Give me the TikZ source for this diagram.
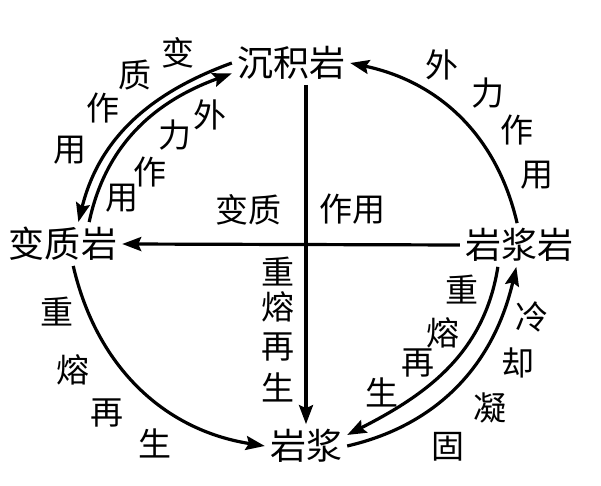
\documentclass[tikz,border=0pt]{standalone}
\usepackage{fontspec}
\setmainfont{Noto Sans CJK SC}
\usetikzlibrary{arrows.meta}
\tikzset{rock/.style={inner sep=5pt, font=\fontsize{36}{40}\selectfont},
  lbl/.style={inner sep=0pt, font=\fontsize{33}{38}\selectfont},
  flow/.style={line width=3.2pt, -{Stealth[length=19pt,width=14pt,inset=3pt]}}}

\begin{document}
\begin{tikzpicture}[x=1pt,y=1pt]
\useasboundingbox (0,0) rectangle (601,486);
% rocks
\node[rock] (sed) at (291,423) {沉积岩};
\node[rock] (meta) at (63,242) {变质岩};
\node[rock] (ign) at (519,241) {岩浆岩};
\node[rock] (mag) at (306,40) {岩浆};
% arcs
\draw[flow] (sed.west) to[out=200,in=76] (meta.55);
\draw[flow] (meta.40) to[out=78,in=200] (sed.190);
\draw[flow] (ign.95) to[out=103,in=348] (sed.east);
\draw[flow] (meta.-65) to[out=283,in=171] (mag.west);
\draw[flow] (ign.-134) to[out=261,in=27] (mag.15);
\draw[flow] (mag.east) to[out=13,in=257] (ign.-97);
% cross
\draw[flow] (ign.west) -- (meta.east);
\draw[flow] (sed.south -| mag.north) -- (mag.north);
% labels
\node[lbl] (metaL) at (248,276) {变质};
\node[lbl] (actL) at (352,277) {作用};
\foreach \t/\x/\y [count=\i] in {变/178/433, 质/135/411, 作/103/378, 用/70/336}
  \node[lbl] (mo\i) at (\x,\y) {\t};
\foreach \t/\x/\y [count=\i] in {外/210/371, 力/175/351, 作/150/314, 用/122/288}
  \node[lbl] (wi\i) at (\x,\y) {\t};
\foreach \t/\x/\y [count=\i] in {外/442/421, 力/488/393, 作/517/356, 用/537/311}
  \node[lbl] (wo\i) at (\x,\y) {\t};
\foreach \t/\x/\y [count=\i] in {重/278/214, 熔/278/179, 再/278/139, 生/278/99}
  \node[lbl] (rv\i) at (\x,\y) {\t};
\foreach \t/\x/\y [count=\i] in {重/57/174, 熔/73/116, 再/107/73, 生/155/43}
  \node[lbl] (rl\i) at (\x,\y) {\t};
\foreach \t/\x/\y [count=\i] in {重/462/196, 熔/443/153, 再/418/123, 生/382/94}
  \node[lbl] (rr\i) at (\x,\y) {\t};
\foreach \t/\x/\y [count=\i] in {冷/532/169, 却/518/123, 凝/490/78, 固/448/39}
  \node[lbl] (cg\i) at (\x,\y) {\t};
\end{tikzpicture}
\end{document}
